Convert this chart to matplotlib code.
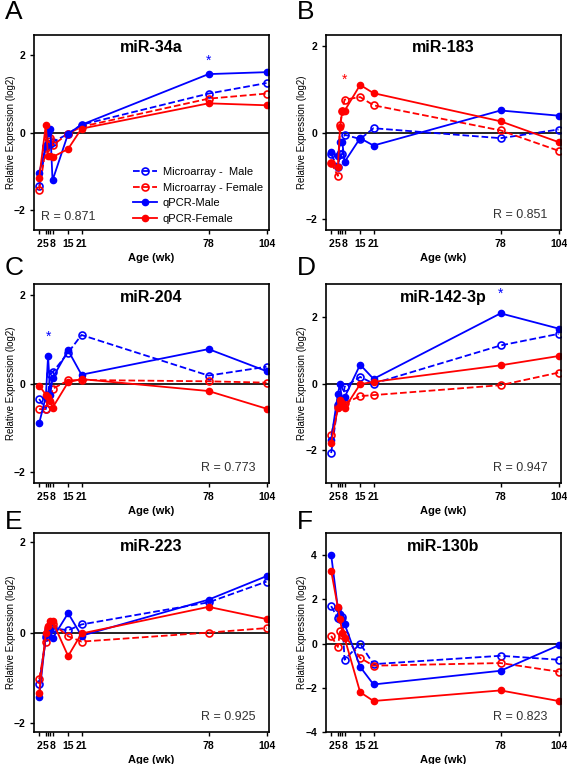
import numpy as np
from matplotlib import pyplot as plt

plt.rcParams['font.family'] = ['Liberation Sans', 'DejaVu Sans']

ages = [2, 5, 6, 7, 8, 15, 21, 78, 104]
age_ticks = [2, 5, 8, 15, 21, 78, 104]
series_labels = ['Microarray -  Male', 'Microarray - Female', 'qPCR-Male', 'qPCR-Female']

# panel A  miR-34a
a_ma_male = [-1.38, -0.35, -0.30, -0.30, -0.25, -0.03, 0.20, 1.00, 1.27]
a_ma_female = [-1.48, -0.40, -0.15, -0.15, -0.33, -0.03, 0.15, 0.87, 1.00]
a_q_male = [-1.04, -0.35, 0.00, 0.10, -1.23, -0.03, 0.20, 1.50, 1.55]
a_q_female = [-1.17, 0.20, -0.60, -0.60, -0.63, -0.42, 0.10, 0.75, 0.70]

# panel B  miR-183
b_ma_male = [-0.50, -0.80, -0.50, -0.50, -0.05, -0.15, 0.10, -0.13, 0.07]
b_ma_female = [-0.70, -1.00, 0.18, 0.50, 0.76, 0.82, 0.63, 0.05, -0.42]
b_q_male = [-0.45, -0.55, -0.22, -0.22, -0.68, -0.13, -0.30, 0.51, 0.39]
b_q_female = [-0.70, -0.80, 0.12, 0.50, 0.50, 1.10, 0.91, 0.26, -0.22]

# panel C  miR-204
c_ma_male = [-0.35, -0.58, -0.25, 0.22, 0.25, 0.70, 1.10, 0.18, 0.38]
c_ma_female = [-0.58, -0.58, -0.35, -0.45, -0.12, 0.07, 0.08, 0.05, 0.02]
c_q_male = [-0.90, -0.30, 0.62, -0.25, 0.12, 0.75, 0.20, 0.78, 0.28]
c_q_female = [-0.05, -0.25, -0.30, -0.40, -0.55, 0.03, 0.10, -0.17, -0.57]

# panel D  miR-142-3p
d_ma_male = [-2.10, -0.65, -0.60, -0.65, -0.10, 0.20, 0.00, 1.15, 1.50]
d_ma_female = [-1.55, -0.70, -0.60, -0.55, -0.60, -0.38, -0.35, -0.05, 0.33]
d_q_male = [-1.70, -0.32, 0.00, -0.65, -0.42, 0.57, 0.14, 2.12, 1.66]
d_q_female = [-1.80, -0.75, -0.50, -0.60, -0.75, -0.02, 0.05, 0.55, 0.83]

# panel E  miR-223
e_ma_male = [-1.13, -0.10, 0.05, 0.10, 0.10, 0.05, 0.18, 0.67, 1.13]
e_ma_female = [-1.03, -0.20, 0.10, 0.15, 0.20, -0.08, -0.20, 0.00, 0.10]
e_q_male = [-1.43, -0.05, 0.00, 0.05, -0.13, 0.43, -0.07, 0.73, 1.25]
e_q_female = [-1.33, 0.00, 0.15, 0.25, 0.25, -0.52, -0.02, 0.57, 0.30]

# panel F  miR-130b
f_ma_male = [1.70, 1.15, 1.10, 1.20, -0.73, 0.00, -0.93, -0.55, -0.73]
f_ma_female = [0.35, -0.15, 0.55, 0.40, 0.40, -0.65, -1.00, -0.88, -1.27]
f_q_male = [4.03, 1.60, 1.35, 1.10, 0.90, -1.05, -1.85, -1.23, -0.08]
f_q_female = [3.30, 1.65, 1.10, 0.50, 0.27, -2.20, -2.60, -2.12, -2.60]

panels = [
    ('A', 'miR-34a', a_ma_male, a_ma_female, a_q_male, a_q_female, (-2.5, 2.5), [-2, 0, 2], 'R = 0.871', 'left', (78, 1.85, 'blue')),
    ('B', 'miR-183', b_ma_male, b_ma_female, b_q_male, b_q_female, (-2.25, 2.25), [-2, 0, 2], 'R = 0.851', 'right', (8, 1.23, 'red')),
    ('C', 'miR-204', c_ma_male, c_ma_female, c_q_male, c_q_female, (-2.25, 2.25), [-2, 0, 2], 'R = 0.773', 'right', (6, 1.06, 'blue')),
    ('D', 'miR-142-3p', d_ma_male, d_ma_female, d_q_male, d_q_female, (-3, 3), [-2, 0, 2], 'R = 0.947', 'right', (78, 2.7, 'blue')),
    ('E', 'miR-223', e_ma_male, e_ma_female, e_q_male, e_q_female, (-2.2, 2.2), [-2, 0, 2], 'R = 0.925', 'right', None),
    ('F', 'miR-130b', f_ma_male, f_ma_female, f_q_male, f_q_female, (-4, 5), [-4, -2, 0, 2, 4], 'R = 0.823', 'right', None),
]

fig = plt.figure(figsize=(5.67, 7.64), dpi=100)
lefts = [0.060, 0.575]
bottoms = [0.699, 0.368, 0.042]
heights = [0.255, 0.26, 0.26]
letter_y = [0.984, 0.649, 0.317]

for i, (letter, title, ma_m, ma_f, q_m, q_f, ylim, yticks, rtext, rpos, star) in enumerate(panels):
    row, col = divmod(i, 2)
    ax = fig.add_axes([lefts[col], bottoms[row], 0.414, heights[row]])

    ax.axhline(0, color='black', lw=1.2, zorder=1)
    ax.plot(ages, ma_m, '--o', color='blue', mfc='none', ms=5, mew=1.2, lw=1.3, label=series_labels[0])
    ax.plot(ages, ma_f, '--o', color='red', mfc='none', ms=5, mew=1.2, lw=1.3, label=series_labels[1])
    ax.plot(ages, q_m, '-o', color='blue', ms=4.5, lw=1.3, label=series_labels[2])
    ax.plot(ages, q_f, '-o', color='red', ms=4.5, lw=1.3, label=series_labels[3])

    ax.set_xlim(-0.3, 105)
    ax.set_ylim(*ylim)
    ax.set_xticks(age_ticks)
    ax.set_xticks([6, 7], minor=True)
    ax.set_yticks(yticks)
    ax.tick_params(axis='both', which='major', labelsize=7.5, length=3, width=1, direction='out')
    ax.tick_params(axis='x', which='minor', length=3, width=1)
    for lab in ax.get_xticklabels() + ax.get_yticklabels():
        lab.set_fontweight('bold')
    for sp in ax.spines.values():
        sp.set_linewidth(1.2)

    ax.set_xlabel('Age (wk)', fontsize=8, fontweight='bold', labelpad=3)
    ax.set_ylabel('Relative Expression (log2)', fontsize=7)
    ax.yaxis.set_label_coords(-0.075 if col == 0 else -0.082, 0.5)
    ax.set_title(title, fontsize=11.5, fontweight='bold', y=0.87)

    if rpos == 'left':
        ax.text(0.03, 0.065, rtext, transform=ax.transAxes, fontsize=9, ha='left', va='center', color='#333333')
    else:
        ax.text(0.945, 0.075, rtext, transform=ax.transAxes, fontsize=9, ha='right', va='center', color='#333333')

    if star is not None:
        ax.text(star[0], star[1], '*', color=star[2], fontsize=10, ha='center', va='center')

    fig.text(lefts[col] - 0.052, letter_y[row], letter, fontsize=19, ha='left', va='center')

    if i == 0:
        ax.legend(loc='lower right', fontsize=8, frameon=False, handlelength=2.2, handletextpad=0.5,
                  labelspacing=0.5, borderaxespad=0.15)

fig.savefig('out.png', dpi=100)
